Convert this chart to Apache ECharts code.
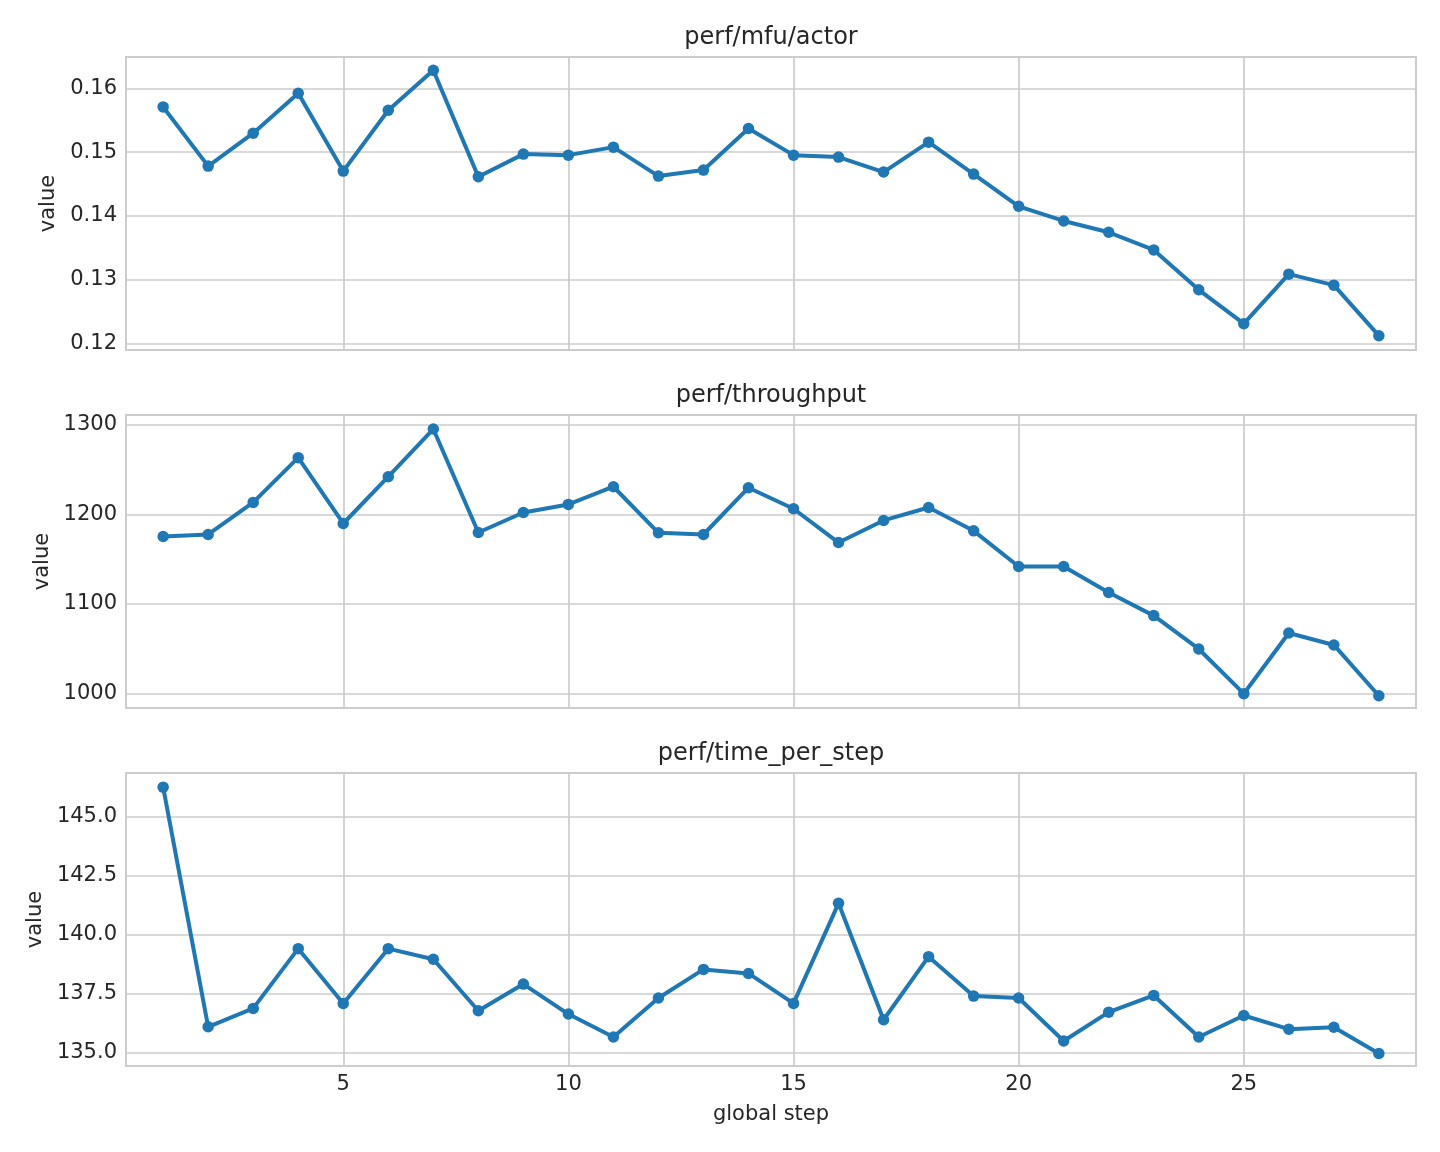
<!DOCTYPE html>
<html>
<head>
<meta charset="utf-8">
<script src="https://cdn.jsdelivr.net/npm/echarts@6/dist/echarts.min.js"></script>
<style>
html,body{margin:0;padding:0;background:#fff;}
#chart{width:1440px;height:1152px;}
</style>
</head>
<body>
<div id="chart"></div>
<script>
const steps = [1,2,3,4,5,6,7,8,9,10,11,12,13,14,15,16,17,18,19,20,21,22,23,24,25,26,27,28];
const mfuActor = [0.15708,0.14781,0.15297,0.15922,0.14703,0.15656,0.16281,0.14614,0.14969,0.14953,0.15078,0.14625,0.14719,0.15370,0.14953,0.14922,0.14688,0.15156,0.14656,0.14152,0.13922,0.13745,0.13469,0.12844,0.12313,0.13089,0.12917,0.12125];
const throughput = [1175.4,1177.6,1213.5,1263.5,1189.9,1242.2,1295.5,1179.8,1202.2,1211.2,1231.0,1179.5,1177.6,1229.9,1206.4,1168.6,1193.3,1207.8,1181.7,1141.8,1141.8,1112.7,1086.9,1049.6,999.6,1067.5,1054.1,997.3];
const timePerStep = [146.25,136.10,136.88,139.41,137.09,139.41,138.96,136.78,137.91,136.64,135.67,137.32,138.53,138.36,137.09,141.33,136.40,139.07,137.40,137.32,135.50,136.72,137.43,135.67,136.58,136.00,136.08,134.97];
const titles = ['perf/mfu/actor','perf/throughput','perf/time_per_step'];
const xTicks = [5,10,15,20,25];
const yTicks1 = [0.12,0.13,0.14,0.15,0.16];
const yTicks2 = [1000,1100,1200,1300];
const yTicks3 = [135.0,137.5,140.0,142.5,145.0];
const yRanges = [[0.11901,0.16490],[983.6,1311.2],[134.44,146.85]];
const yDigits = [2,0,1];
const nameGaps = [65,73,79];

const FONT = 'DejaVu Sans';
const TXT = '#262626';
const GRIDC = '#cccccc';
const BLUE = '#1f77b4';
const tops = [57,415,773];
const H = 293;

const seriesData = [mfuActor, throughput, timePerStep];
const yTickSets = [yTicks1, yTicks2, yTicks3];

const option = {
  backgroundColor: '#ffffff',
  animation: false,
  title: titles.map((t,i)=>({
    text: t, left: 771, top: tops[i]-31, textAlign: 'center', padding: 0,
    textStyle: {fontFamily: FONT, fontSize: 24, fontWeight: 'normal', color: TXT}
  })),
  grid: tops.map(t=>({left:126, right:24, top:t, height:H, show:true, borderColor:GRIDC, borderWidth:2, backgroundColor:'#fff', containLabel:false})),
  xAxis: [0,1,2].map(i=>({
    type:'value', gridIndex:i, min:0.175, max:28.825,
    name: i===2 ? 'global step' : '', nameLocation:'middle', nameGap:38,
    nameTextStyle:{fontFamily:FONT, fontSize:21, color:TXT},
    axisLine:{show:false},
    axisTick:{show:false, customValues:xTicks},
    axisLabel:{show:i===2, customValues:xTicks, margin:8, fontFamily:FONT, fontSize:21, color:TXT},
    splitLine:{show:true, lineStyle:{color:GRIDC, width:1.7}}
  })),
  yAxis: [0,1,2].map(i=>({
    type:'value', gridIndex:i, min:yRanges[i][0], max:yRanges[i][1],
    name:'value', nameLocation:'middle', nameGap:nameGaps[i],
    nameTextStyle:{fontFamily:FONT, fontSize:21, color:TXT},
    axisLine:{show:false},
    axisTick:{show:false, customValues:yTickSets[i]},
    axisLabel:{show:true, customValues:yTickSets[i], margin:9, fontFamily:FONT, fontSize:21, color:TXT,
      formatter:(v)=>Number(v).toFixed(yDigits[i])},
    splitLine:{show:true, lineStyle:{color:GRIDC, width:1.7}}
  })),
  series: [0,1,2].map(i=>({
    type:'line', xAxisIndex:i, yAxisIndex:i,
    data: steps.map((s,k)=>[s, seriesData[i][k]]),
    symbol:'circle', symbolSize:11.5, showSymbol:true,
    lineStyle:{color:BLUE, width:4},
    itemStyle:{color:BLUE, borderWidth:0},
    clip:false
  }))
};
const chart = echarts.init(document.getElementById('chart'), null, {renderer:'canvas'});
chart.setOption(option);
</script>
</body>
</html>
